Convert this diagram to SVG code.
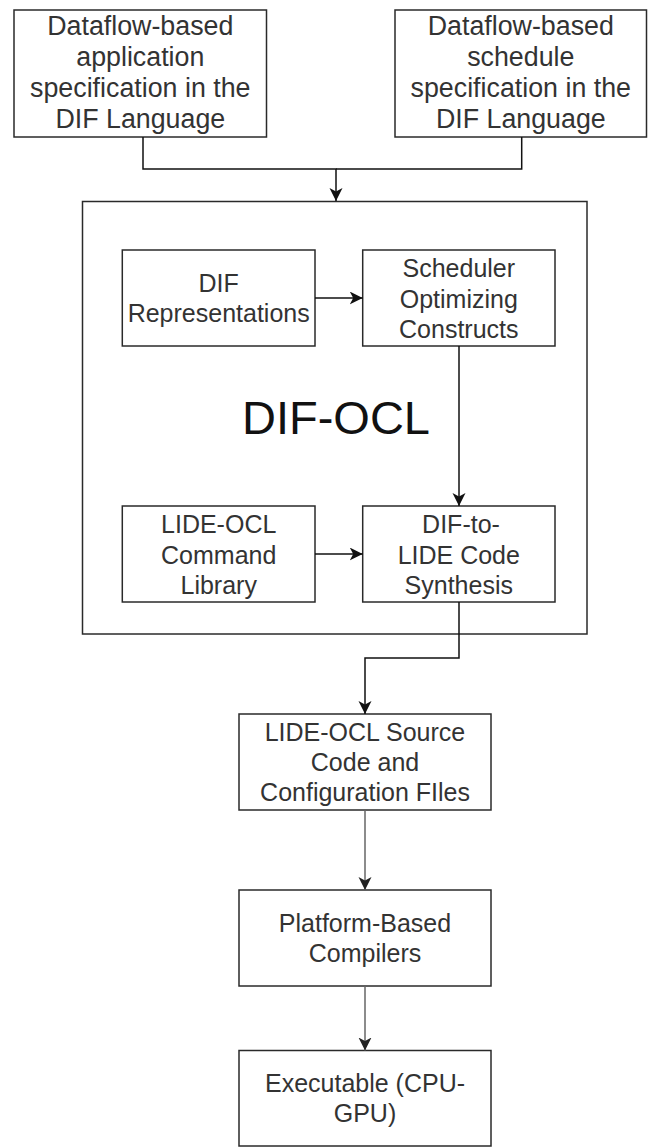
<svg xmlns="http://www.w3.org/2000/svg" width="649" height="1148" viewBox="0 0 649 1148">
<defs>
<style>
.box{fill:#fff;stroke:#2a2a2a;stroke-width:1.5}
.t{font-family:"Liberation Sans",Arial,sans-serif;font-size:25px;fill:#333;text-anchor:middle}
.tl{font-size:26.8px}
.big{font-family:"Liberation Sans",Arial,sans-serif;font-size:47px;fill:#111;text-anchor:middle}
.c{fill:none;stroke:#111;stroke-width:1.5}
.g{fill:none;stroke:#666;stroke-width:1.5}
</style>
<marker id="arr" markerUnits="userSpaceOnUse" markerWidth="15" markerHeight="15" refX="13" refY="6.5" orient="auto">
<path d="M0,0 L13,6.5 L0,13 L3.5,6.5 Z" fill="#111"/>
</marker>
<marker id="arrg" markerUnits="userSpaceOnUse" markerWidth="15" markerHeight="15" refX="13" refY="6.5" orient="auto">
<path d="M0,0 L13,6.5 L0,13 L3.5,6.5 Z" fill="#222"/>
</marker>
</defs>
<rect width="649" height="1148" fill="#fff"/>
<g id="dif-ocl">
<rect class="box" x="82.5" y="201.5" width="504.5" height="432.5"/>
<text class="big" x="336" y="434">DIF-OCL</text>
</g>
<g id="app-spec">
<rect class="box" x="14" y="10" width="252.5" height="127"/>
<text class="t tl"><tspan x="140.3" y="35">Dataflow-based</tspan><tspan x="140.3" y="66">application</tspan><tspan x="140.3" y="97">specification in the</tspan><tspan x="140.3" y="128">DIF Language</tspan></text>
</g>
<g id="sched-spec">
<rect class="box" x="395" y="10" width="251.5" height="127"/>
<text class="t tl"><tspan x="520.8" y="35">Dataflow-based</tspan><tspan x="520.8" y="66">schedule</tspan><tspan x="520.8" y="97">specification in the</tspan><tspan x="520.8" y="128">DIF Language</tspan></text>
</g>
<g id="dif-rep">
<rect class="box" x="122.3" y="250" width="192.7" height="96"/>
<text class="t"><tspan x="218.7" y="292">DIF</tspan><tspan x="218.7" y="322">Representations</tspan></text>
</g>
<g id="scheduler">
<rect class="box" x="362.7" y="250" width="192.3" height="96"/>
<text class="t"><tspan x="458.8" y="277">Scheduler</tspan><tspan x="458.8" y="307.5">Optimizing</tspan><tspan x="458.8" y="338">Constructs</tspan></text>
</g>
<g id="lide-lib">
<rect class="box" x="122.3" y="506" width="192.7" height="96"/>
<text class="t"><tspan x="218.7" y="533">LIDE-OCL</tspan><tspan x="218.7" y="563.5">Command</tspan><tspan x="218.7" y="594">Library</tspan></text>
</g>
<g id="synthesis">
<rect class="box" x="362.7" y="506" width="192.3" height="96"/>
<text class="t"><tspan x="461" y="533">DIF-to-</tspan><tspan x="458.8" y="563.5">LIDE Code</tspan><tspan x="458.8" y="594">Synthesis</tspan></text>
</g>
<g id="source">
<rect class="box" x="239" y="714" width="252" height="96"/>
<text class="t"><tspan x="365" y="740.5">LIDE-OCL Source</tspan><tspan x="365" y="771">Code and</tspan><tspan x="365" y="801">Configuration FIles</tspan></text>
</g>
<g id="compilers">
<rect class="box" x="239" y="890" width="252" height="96"/>
<text class="t"><tspan x="365" y="932">Platform-Based</tspan><tspan x="365" y="962">Compilers</tspan></text>
</g>
<g id="executable">
<rect class="box" x="239" y="1050.5" width="252" height="95.5"/>
<text class="t"><tspan x="365" y="1092">Executable (CPU-</tspan><tspan x="365" y="1122">GPU)</tspan></text>
</g>
<g id="connectors">
<path class="c" d="M143,137 V169 H336 V201" marker-end="url(#arr)"/>
<path class="c" d="M521.7,137 V169 H336"/>
<path class="c" d="M315,298 H362.7" marker-end="url(#arr)"/>
<path class="c" d="M459,346 V506" marker-end="url(#arr)"/>
<path class="c" d="M315,554 H362.7" marker-end="url(#arr)"/>
<path class="c" d="M459,602 V658 H365 V714" marker-end="url(#arr)"/>
<path class="g" d="M365,810 V890" marker-end="url(#arrg)"/>
<path class="g" d="M365,986 V1050.5" marker-end="url(#arrg)"/>
</g>
</svg>
